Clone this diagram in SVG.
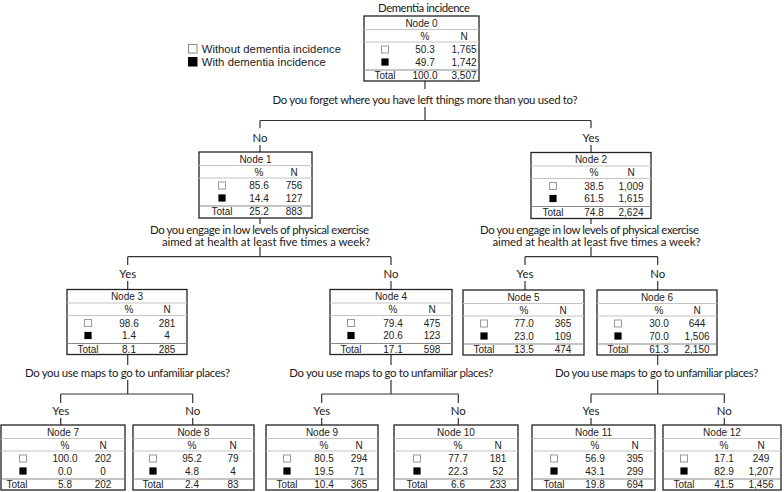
<svg xmlns="http://www.w3.org/2000/svg" width="784" height="492" viewBox="0 0 784 492">
<style>
.box{fill:#fff;stroke:#222;stroke-width:1.3}
.ln{stroke:#c4c4c4;stroke-width:1}
.lt{stroke:#8a8a8a;stroke-width:1}
.t{font-family:"Liberation Sans",Arial,sans-serif;font-size:10px;fill:#222;text-anchor:middle}
.q{font-family:Lato,"Open Sans",sans-serif;font-size:11.4px;fill:#1a1a1a}
.lab{font-family:Lato,"Open Sans",sans-serif;font-size:11.4px;fill:#1a1a1a;text-anchor:middle}
.c{stroke:#333;stroke-width:1.2;fill:none}
.lg{font-family:"Liberation Sans",Arial,sans-serif;font-size:11.3px;fill:#222}
</style>
<defs>
<rect id="sw" x="-3.5" y="-3.5" width="7" height="7" fill="#fff" stroke="#999" stroke-width="1"/>
<rect id="sb" x="-3.6" y="-3.6" width="7.2" height="7.2" fill="#000"/>
</defs>
<rect width="784" height="492" fill="#fff"/>
<text class="q" x="424" y="12" text-anchor="middle" textLength="92">Dementia incidence</text>
<g id="legend">
<rect x="188.5" y="44.5" width="8.5" height="8.5" fill="#fff" stroke="#888" stroke-width="1"/>
<rect x="188" y="57" width="9.5" height="9.5" fill="#000"/>
<text class="lg" x="201.7" y="53" textLength="139.3">Without dementia incidence</text>
<text class="lg" x="201.7" y="65.7" textLength="124">With dementia incidence</text>
</g>
<g id="connectors">
<path class="c" d="M425,81V89M425,107V120.5M260,120.5H591M260,120.5V128M260,145V152M591,120.5V128M591,145V152.5"/>
<path class="c" d="M260,218V224M260,247V256.7M127.7,256.7H391M127.7,256.7V265M127.7,281V289.5M391,256.7V265M391,281V289.5"/>
<path class="c" d="M591,218.5V224M591,247V256.7M525,256.7H657.7M525,256.7V265M525,281V290M657.7,256.7V265M657.7,281V290"/>
<path class="c" d="M127.7,354.5V365M127.7,380V394M60.7,394H192.7M60.7,394V403M60.7,418V425M192.7,394V403M192.7,418V425"/>
<path class="c" d="M391,354.5V365M391,380V394M321.7,394H458.3M321.7,394V403M321.7,418V425M458.3,394V403M458.3,418V425"/>
<path class="c" d="M657.7,355V365M657.7,380V394M591,394H724.3M591,394V403M591,418V425M724.3,394V403M724.3,418V425"/>
</g>
<g id="questions">
<text class="q" x="425" y="104" text-anchor="middle" textLength="305">Do you forget where you have left things more than you used to?</text>
<text class="q" x="150" y="233.5" textLength="219">Do you engage in low levels of physical exercise</text>
<text class="q" x="162" y="245.5" textLength="208">aimed at health at least five times a week?</text>
<text class="q" x="480" y="233.5" textLength="219">Do you engage in low levels of physical exercise</text>
<text class="q" x="492.5" y="245.5" textLength="208">aimed at health at least five times a week?</text>
<text class="q" x="25" y="376.5" textLength="205">Do you use maps to go to unfamiliar places?</text>
<text class="q" x="289.3" y="376.5" textLength="204">Do you use maps to go to unfamiliar places?</text>
<text class="q" x="555" y="376.5" textLength="203.3">Do you use maps to go to unfamiliar places?</text>
</g>
<g id="labels">
<text class="lab" x="260" y="141.5">No</text>
<text class="lab" x="591" y="141.5">Yes</text>
<text class="lab" x="127.7" y="278">Yes</text>
<text class="lab" x="391" y="278">No</text>
<text class="lab" x="525" y="278">Yes</text>
<text class="lab" x="657.7" y="278">No</text>
<text class="lab" x="60.7" y="414.5">Yes</text>
<text class="lab" x="192.7" y="414.5">No</text>
<text class="lab" x="321.7" y="414.5">Yes</text>
<text class="lab" x="458.3" y="414.5">No</text>
<text class="lab" x="591" y="414.5">Yes</text>
<text class="lab" x="724.3" y="414.5">No</text>
</g>
<g id="node0" transform="translate(364,16)">
<rect class="box" width="115" height="65"/>
<line class="ln" x1="0" y1="13.5" x2="115" y2="13.5"/><line class="ln" x1="0" y1="26" x2="115" y2="26"/><line class="lt" x1="0" y1="54" x2="115" y2="54"/>
<text class="t" x="57.5" y="10.8">Node 0</text>
<text class="t" x="61" y="23.5">%</text><text class="t" x="100" y="23.5">N</text>
<use href="#sw" x="21" y="33.5"/><text class="t" x="61" y="37">50.3</text><text class="t" x="100" y="37">1,765</text>
<use href="#sb" x="21" y="46"/><text class="t" x="61" y="49.5">49.7</text><text class="t" x="100" y="49.5">1,742</text>
<text class="t" x="21" y="63">Total</text><text class="t" x="61" y="63">100.0</text><text class="t" x="100" y="63">3,507</text>
</g>
<g id="node1" transform="translate(199,152)">
<rect class="box" width="113" height="66"/>
<line class="ln" x1="0" y1="13.5" x2="113" y2="13.5"/><line class="ln" x1="0" y1="26" x2="113" y2="26"/><line class="lt" x1="0" y1="54" x2="113" y2="54"/>
<text class="t" x="56.5" y="10.8">Node 1</text>
<text class="t" x="60" y="23.5">%</text><text class="t" x="95" y="23.5">N</text>
<use href="#sw" x="23" y="33.5"/><text class="t" x="60" y="37">85.6</text><text class="t" x="95" y="37">756</text>
<use href="#sb" x="23" y="46"/><text class="t" x="60" y="49.5">14.4</text><text class="t" x="95" y="49.5">127</text>
<text class="t" x="23" y="63">Total</text><text class="t" x="60" y="63">25.2</text><text class="t" x="95" y="63">883</text>
</g>
<g id="node2" transform="translate(531,152.5)">
<rect class="box" width="120" height="66"/>
<line class="ln" x1="0" y1="13.5" x2="120" y2="13.5"/><line class="ln" x1="0" y1="26" x2="120" y2="26"/><line class="lt" x1="0" y1="54" x2="120" y2="54"/>
<text class="t" x="60" y="10.8">Node 2</text>
<text class="t" x="63" y="23.5">%</text><text class="t" x="100" y="23.5">N</text>
<use href="#sw" x="22" y="33.5"/><text class="t" x="63" y="37">38.5</text><text class="t" x="100" y="37">1,009</text>
<use href="#sb" x="22" y="46"/><text class="t" x="63" y="49.5">61.5</text><text class="t" x="100" y="49.5">1,615</text>
<text class="t" x="22" y="63">Total</text><text class="t" x="63" y="63">74.8</text><text class="t" x="100" y="63">2,624</text>
</g>
<g id="node3" transform="translate(67,289.5)">
<rect class="box" width="120" height="65"/>
<line class="ln" x1="0" y1="13.5" x2="120" y2="13.5"/><line class="ln" x1="0" y1="26" x2="120" y2="26"/><line class="lt" x1="0" y1="54" x2="120" y2="54"/>
<text class="t" x="60" y="10.8">Node 3</text>
<text class="t" x="62" y="23.5">%</text><text class="t" x="100" y="23.5">N</text>
<use href="#sw" x="21" y="33.5"/><text class="t" x="62" y="37">98.6</text><text class="t" x="100" y="37">281</text>
<use href="#sb" x="21" y="46"/><text class="t" x="62" y="49.5">1.4</text><text class="t" x="100" y="49.5">4</text>
<text class="t" x="21" y="63">Total</text><text class="t" x="62" y="63">8.1</text><text class="t" x="100" y="63">285</text>
</g>
<g id="node4" transform="translate(330,289.5)">
<rect class="box" width="122" height="65"/>
<line class="ln" x1="0" y1="13.5" x2="122" y2="13.5"/><line class="ln" x1="0" y1="26" x2="122" y2="26"/><line class="lt" x1="0" y1="54" x2="122" y2="54"/>
<text class="t" x="61" y="10.8">Node 4</text>
<text class="t" x="63" y="23.5">%</text><text class="t" x="102" y="23.5">N</text>
<use href="#sw" x="21" y="33.5"/><text class="t" x="63" y="37">79.4</text><text class="t" x="102" y="37">475</text>
<use href="#sb" x="21" y="46"/><text class="t" x="63" y="49.5">20.6</text><text class="t" x="102" y="49.5">123</text>
<text class="t" x="21" y="63">Total</text><text class="t" x="63" y="63">17.1</text><text class="t" x="102" y="63">598</text>
</g>
<g id="node5" transform="translate(463,290)">
<rect class="box" width="121" height="65"/>
<line class="ln" x1="0" y1="13.5" x2="121" y2="13.5"/><line class="ln" x1="0" y1="26" x2="121" y2="26"/><line class="lt" x1="0" y1="54" x2="121" y2="54"/>
<text class="t" x="60.5" y="10.8">Node 5</text>
<text class="t" x="61" y="23.5">%</text><text class="t" x="100" y="23.5">N</text>
<use href="#sw" x="21" y="33.5"/><text class="t" x="61" y="37">77.0</text><text class="t" x="100" y="37">365</text>
<use href="#sb" x="21" y="46"/><text class="t" x="61" y="49.5">23.0</text><text class="t" x="100" y="49.5">109</text>
<text class="t" x="21" y="63">Total</text><text class="t" x="61" y="63">13.5</text><text class="t" x="100" y="63">474</text>
</g>
<g id="node6" transform="translate(597,290)">
<rect class="box" width="120" height="65"/>
<line class="ln" x1="0" y1="13.5" x2="120" y2="13.5"/><line class="ln" x1="0" y1="26" x2="120" y2="26"/><line class="lt" x1="0" y1="54" x2="120" y2="54"/>
<text class="t" x="60" y="10.8">Node 6</text>
<text class="t" x="62" y="23.5">%</text><text class="t" x="100" y="23.5">N</text>
<use href="#sw" x="21" y="33.5"/><text class="t" x="62" y="37">30.0</text><text class="t" x="100" y="37">644</text>
<use href="#sb" x="21" y="46"/><text class="t" x="62" y="49.5">70.0</text><text class="t" x="100" y="49.5">1,506</text>
<text class="t" x="21" y="63">Total</text><text class="t" x="62" y="63">61.3</text><text class="t" x="100" y="63">2,150</text>
</g>
<g id="node7" transform="translate(1,425)">
<rect class="box" width="124" height="65"/>
<line class="ln" x1="0" y1="13.5" x2="124" y2="13.5"/><line class="ln" x1="0" y1="26" x2="124" y2="26"/><line class="lt" x1="0" y1="54" x2="124" y2="54"/>
<text class="t" x="62" y="10.8">Node 7</text>
<text class="t" x="64" y="23.5">%</text><text class="t" x="102" y="23.5">N</text>
<use href="#sw" x="22" y="33.5"/><text class="t" x="64" y="37">100.0</text><text class="t" x="102" y="37">202</text>
<use href="#sb" x="22" y="46"/><text class="t" x="64" y="49.5">0.0</text><text class="t" x="102" y="49.5">0</text>
<text class="t" x="16" y="63">Total</text><text class="t" x="64" y="63">5.8</text><text class="t" x="102" y="63">202</text>
</g>
<g id="node8" transform="translate(133,425)">
<rect class="box" width="121" height="65"/>
<line class="ln" x1="0" y1="13.5" x2="121" y2="13.5"/><line class="ln" x1="0" y1="26" x2="121" y2="26"/><line class="lt" x1="0" y1="54" x2="121" y2="54"/>
<text class="t" x="60.5" y="10.8">Node 8</text>
<text class="t" x="59" y="23.5">%</text><text class="t" x="100" y="23.5">N</text>
<use href="#sw" x="20" y="33.5"/><text class="t" x="59" y="37">95.2</text><text class="t" x="100" y="37">79</text>
<use href="#sb" x="20" y="46"/><text class="t" x="59" y="49.5">4.8</text><text class="t" x="100" y="49.5">4</text>
<text class="t" x="20" y="63">Total</text><text class="t" x="59" y="63">2.4</text><text class="t" x="100" y="63">83</text>
</g>
<g id="node9" transform="translate(266,425)">
<rect class="box" width="112" height="65"/>
<line class="ln" x1="0" y1="13.5" x2="112" y2="13.5"/><line class="ln" x1="0" y1="26" x2="112" y2="26"/><line class="lt" x1="0" y1="54" x2="112" y2="54"/>
<text class="t" x="56" y="10.8">Node 9</text>
<text class="t" x="58" y="23.5">%</text><text class="t" x="93" y="23.5">N</text>
<use href="#sw" x="21" y="33.5"/><text class="t" x="58" y="37">80.5</text><text class="t" x="93" y="37">294</text>
<use href="#sb" x="21" y="46"/><text class="t" x="58" y="49.5">19.5</text><text class="t" x="93" y="49.5">71</text>
<text class="t" x="21" y="63">Total</text><text class="t" x="58" y="63">10.4</text><text class="t" x="93" y="63">365</text>
</g>
<g id="node10" transform="translate(394,425)">
<rect class="box" width="124" height="65"/>
<line class="ln" x1="0" y1="13.5" x2="124" y2="13.5"/><line class="ln" x1="0" y1="26" x2="124" y2="26"/><line class="lt" x1="0" y1="54" x2="124" y2="54"/>
<text class="t" x="62" y="10.8">Node 10</text>
<text class="t" x="64" y="23.5">%</text><text class="t" x="104" y="23.5">N</text>
<use href="#sw" x="23" y="33.5"/><text class="t" x="64" y="37">77.7</text><text class="t" x="104" y="37">181</text>
<use href="#sb" x="23" y="46"/><text class="t" x="64" y="49.5">22.3</text><text class="t" x="104" y="49.5">52</text>
<text class="t" x="23" y="63">Total</text><text class="t" x="64" y="63">6.6</text><text class="t" x="104" y="63">233</text>
</g>
<g id="node11" transform="translate(532,425)">
<rect class="box" width="123" height="65"/>
<line class="ln" x1="0" y1="13.5" x2="123" y2="13.5"/><line class="ln" x1="0" y1="26" x2="123" y2="26"/><line class="lt" x1="0" y1="54" x2="123" y2="54"/>
<text class="t" x="61.5" y="10.8">Node 11</text>
<text class="t" x="63" y="23.5">%</text><text class="t" x="103" y="23.5">N</text>
<use href="#sw" x="22" y="33.5"/><text class="t" x="63" y="37">56.9</text><text class="t" x="103" y="37">395</text>
<use href="#sb" x="22" y="46"/><text class="t" x="63" y="49.5">43.1</text><text class="t" x="103" y="49.5">299</text>
<text class="t" x="22" y="63">Total</text><text class="t" x="63" y="63">19.8</text><text class="t" x="103" y="63">694</text>
</g>
<g id="node12" transform="translate(663,425)">
<rect class="box" width="118" height="65"/>
<line class="ln" x1="0" y1="13.5" x2="118" y2="13.5"/><line class="ln" x1="0" y1="26" x2="118" y2="26"/><line class="lt" x1="0" y1="54" x2="118" y2="54"/>
<text class="t" x="59" y="10.8">Node 12</text>
<text class="t" x="61" y="23.5">%</text><text class="t" x="98" y="23.5">N</text>
<use href="#sw" x="21" y="33.5"/><text class="t" x="61" y="37">17.1</text><text class="t" x="98" y="37">249</text>
<use href="#sb" x="21" y="46"/><text class="t" x="61" y="49.5">82.9</text><text class="t" x="98" y="49.5">1,207</text>
<text class="t" x="21" y="63">Total</text><text class="t" x="61" y="63">41.5</text><text class="t" x="98" y="63">1,456</text>
</g>
</svg>
